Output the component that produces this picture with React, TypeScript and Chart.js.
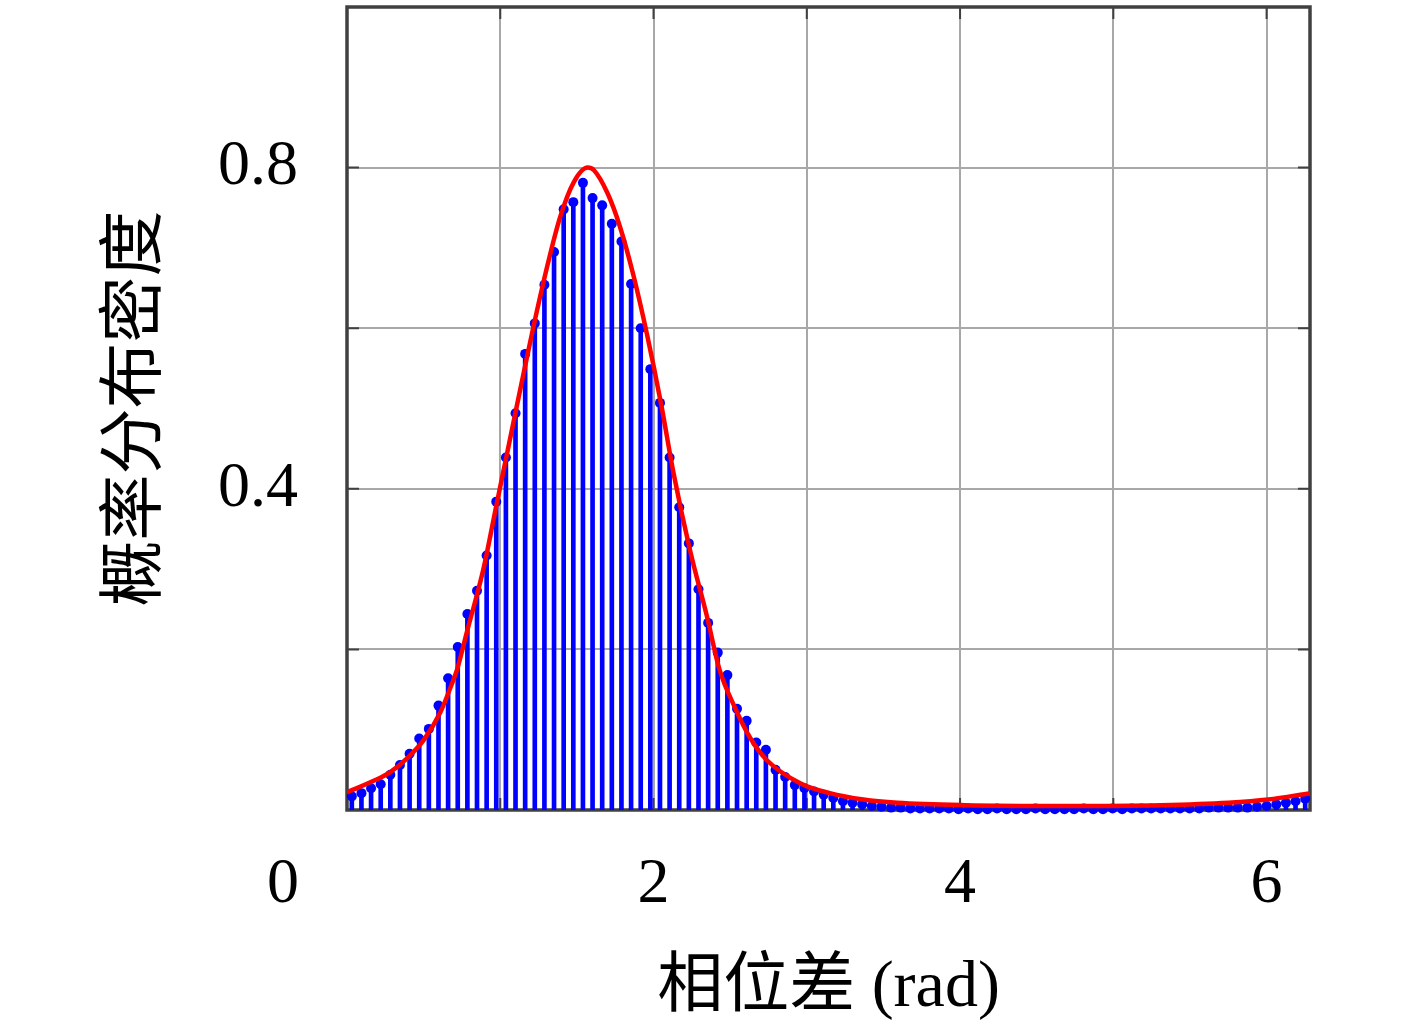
import React, { useEffect, useRef } from 'react';
import { Chart, registerables } from 'chart.js';

Chart.register(...registerables);

// ---- data ----
const xMax = 6.2832; // 2π
const binCount = 100;
const stemValues = [
  0.017, 0.021, 0.027, 0.032, 0.044, 0.056, 0.070, 0.089, 0.101, 0.130, 0.164, 0.203,
  0.244, 0.273, 0.317, 0.384, 0.439, 0.494, 0.568, 0.606, 0.654, 0.695, 0.748, 0.757,
  0.781, 0.762, 0.753, 0.730, 0.708, 0.655, 0.600, 0.549, 0.507, 0.439, 0.377, 0.332,
  0.275, 0.233, 0.196, 0.168, 0.126, 0.111, 0.084, 0.075, 0.050, 0.041, 0.031, 0.027,
  0.023, 0.019, 0.015, 0.011, 0.009, 0.007, 0.005, 0.004, 0.003, 0.003, 0.002, 0.002,
  0.002, 0.002, 0.002, 0.001, 0.002, 0.001, 0.001, 0.002, 0.001, 0.001, 0.001, 0.002,
  0.001, 0.001, 0.001, 0.001, 0.002, 0.001, 0.001, 0.002, 0.001, 0.002, 0.002, 0.002,
  0.002, 0.002, 0.002, 0.002, 0.002, 0.003, 0.003, 0.003, 0.003, 0.003, 0.004, 0.005,
  0.007, 0.009, 0.011, 0.014,
];
const curveX = [
  0, 0.17, 0.28, 0.39, 0.50, 0.61, 0.67, 0.72, 0.78, 0.89, 0.97, 1.04, 1.11, 1.17, 1.22,
  1.31, 1.39, 1.48, 1.57, 1.61, 1.70, 1.78, 1.87, 1.96, 2.05, 2.13, 2.24, 2.35, 2.43,
  2.53, 2.63, 2.74, 2.96, 3.15, 3.37, 3.59, 4.03, 4.68, 5.31, 5.75, 6.01, 6.2832,
];
const curveY = [
  0.022, 0.036, 0.047, 0.064, 0.087, 0.122, 0.150, 0.176, 0.220, 0.300, 0.375, 0.440, 0.505, 0.560, 0.605,
  0.680, 0.738, 0.782, 0.800, 0.797, 0.768, 0.727, 0.665, 0.590, 0.505, 0.420, 0.322, 0.240, 0.175,
  0.128, 0.090, 0.062, 0.033, 0.021, 0.013, 0.009, 0.006, 0.005, 0.006, 0.009, 0.013, 0.021,
];
const xTickValues = [1, 2, 3, 4, 5, 6];
const xTickLabels = ['', '2', '', '4', '', '6'];
const yTickValues = [0.2, 0.4, 0.6, 0.8];
const yTickLabels = ['', '0.4', '', '0.8'];
const xOriginLabel = '0';
const xTitle = '相位差 (rad)';
const yTitle = '概率分布密度';

const FONT = "'Liberation Serif', 'Noto Sans CJK SC', serif";
const FRAME = '#404040';

const framePlugin = {
  id: 'frame',
  beforeDatasetsDraw(chart: any) {
    const { ctx, chartArea: a, scales } = chart;
    const xs = scales.x;
    const ys = scales.y;
    ctx.save();
    ctx.strokeStyle = FRAME;
    ctx.lineWidth = 2;
    const L = 12;
    ctx.beginPath();
    xTickValues.forEach((v) => {
      const p = xs.getPixelForValue(v);
      ctx.moveTo(p, a.bottom);
      ctx.lineTo(p, a.bottom - L);
      ctx.moveTo(p, a.top);
      ctx.lineTo(p, a.top + L);
    });
    yTickValues.forEach((v) => {
      const p = ys.getPixelForValue(v);
      ctx.moveTo(a.left, p);
      ctx.lineTo(a.left + L, p);
      ctx.moveTo(a.right, p);
      ctx.lineTo(a.right - L, p);
    });
    ctx.stroke();
    ctx.lineWidth = 3.5;
    ctx.strokeRect(a.left, a.top, a.right - a.left, a.bottom - a.top);
    ctx.restore();
  },
  afterDraw(chart: any) {
    const { ctx, scales } = chart;
    const xs = scales.x;
    ctx.save();
    ctx.font = `64px ${FONT}`;
    ctx.fillStyle = '#000';
    ctx.textAlign = 'center';
    ctx.textBaseline = 'middle';
    ctx.fillText(xOriginLabel, xs.getPixelForValue(0) - 64, xs.top + 37 + 64 * 0.6);
    ctx.restore();
  },
};

const zeroPad = (s: any) => {
  s.paddingTop = 0;
  s.paddingBottom = 0;
  s.paddingLeft = 0;
  s.paddingRight = 0;
};

export default function App() {
  const ref = useRef<HTMLCanvasElement | null>(null);
  useEffect(() => {
    if (!ref.current) return;
    const binW = xMax / binCount;
    const stems = stemValues.map((v, i) => ({ x: (i + 0.5) * binW, y: v }));
    const curve = curveX.map((x, i) => ({ x, y: curveY[i] }));
    const chart = new Chart(ref.current, {
      type: 'bar',
      data: {
        datasets: [
          {
            type: 'line',
            data: curve,
            borderColor: '#ff0000',
            borderWidth: 4.5,
            pointRadius: 0,
            cubicInterpolationMode: 'monotone',
            fill: false,
            order: 0,
          } as any,
          {
            type: 'line',
            data: stems,
            showLine: false,
            pointRadius: 5,
            pointBackgroundColor: '#0000ff',
            pointBorderWidth: 0,
            borderColor: '#0000ff',
            clip: false,
            order: 1,
          } as any,
          {
            type: 'bar',
            data: stems,
            backgroundColor: '#0000ff',
            borderWidth: 0,
            barThickness: 4,
            order: 2,
          } as any,
        ],
      },
      options: {
        animation: false,
        responsive: false,
        events: [],
        layout: { padding: { left: 0, right: 107, top: 7, bottom: 0 } },
        plugins: { legend: { display: false }, tooltip: { enabled: false } },
        scales: {
          x: {
            type: 'linear',
            min: 0,
            max: xMax,
            offset: false,
            grid: { offset: false, color: '#a8a8a8', lineWidth: 2, drawTicks: false },
            border: { display: false },
            afterBuildTicks: (s: any) => {
              s.ticks = xTickValues.map((v) => ({ value: v }));
            },
            afterFit: (s: any) => {
              s.height = 220;
              zeroPad(s);
            },
            ticks: {
              autoSkip: false,
              maxRotation: 0,
              padding: 37,
              color: '#000',
              font: { family: FONT, size: 64 },
              callback: (_v: any, i: number) => xTickLabels[i],
            },
            title: {
              display: true,
              text: xTitle,
              color: '#000',
              font: { family: FONT, size: 66 },
              padding: { top: 0, bottom: 2 },
            },
          },
          y: {
            type: 'linear',
            min: 0,
            max: 1,
            grid: { color: '#a8a8a8', lineWidth: 2, drawTicks: false },
            border: { display: false },
            afterBuildTicks: (s: any) => {
              s.ticks = yTickValues.map((v) => ({ value: v }));
            },
            afterFit: (s: any) => {
              s.width = 347;
              zeroPad(s);
            },
            ticks: {
              autoSkip: false,
              padding: 49,
              color: '#000',
              font: { family: FONT, size: 64 },
              callback: (_v: any, i: number) => yTickLabels[i],
            },
            title: {
              display: true,
              text: yTitle,
              color: '#000',
              font: { family: FONT, size: 66 },
              padding: { top: 98, bottom: 0 },
            },
          },
        },
      } as any,
      plugins: [framePlugin],
    });
    return () => chart.destroy();
  }, []);
  return (
    <div style={{ position: 'absolute', left: 0, top: 0, width: 1417, height: 1030 }}>
      <canvas ref={ref} width={1417} height={1030} style={{ display: 'block' }} />
    </div>
  );
}
